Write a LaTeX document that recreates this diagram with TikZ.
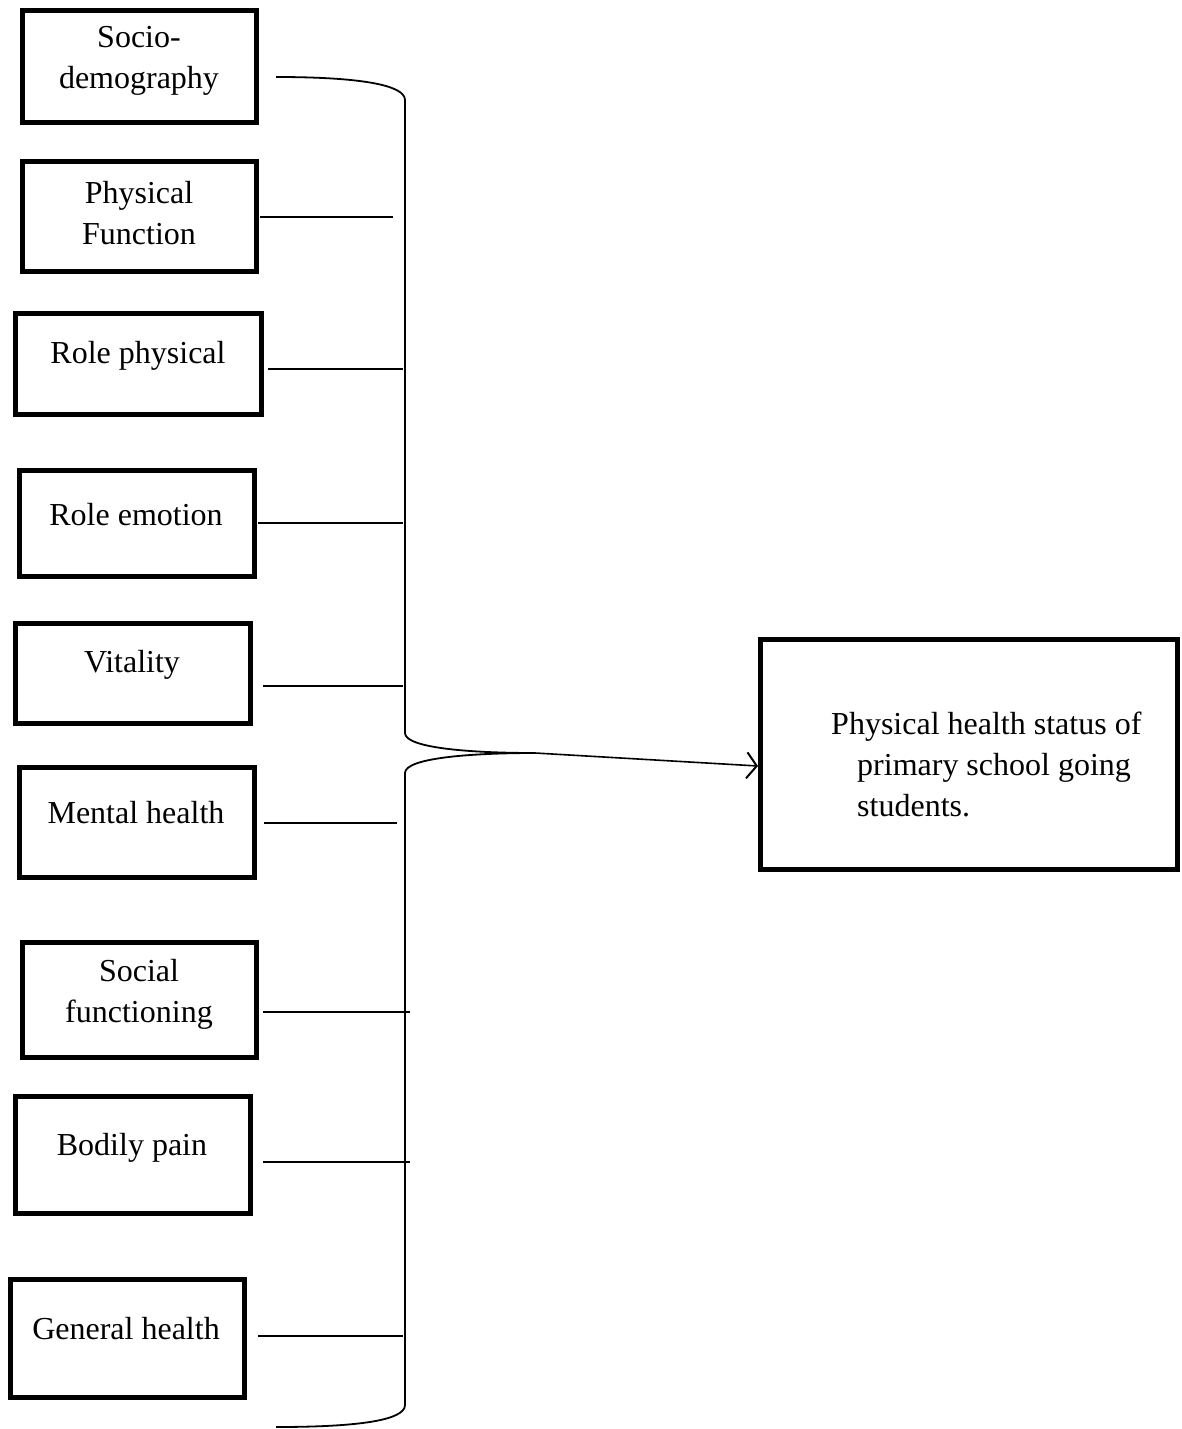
\documentclass[tikz,border=0pt]{standalone}
\usepackage{fontspec}
\setmainfont{Liberation Serif}
\usetikzlibrary{arrows.meta}
\begin{document}
\begin{tikzpicture}[x=1pt,y=1pt,
  box/.style={draw, line width=5pt, inner sep=0pt},
  lbl/.style={font=\fontsize{32}{41}\selectfont, align=center, inner sep=0pt},
  conn/.style={line width=1.6pt},
  brace/.style={line width=1.8pt}]
\useasboundingbox (0,0) rectangle (1181,-1429);
% boxes
\node[box, minimum width=234, minimum height=112] (b1) at (139.5,-66.5) {};
\node[box, minimum width=234, minimum height=110] (b2) at (139.5,-216.5) {};
\node[box, minimum width=246, minimum height=101] (b3) at (138.5,-364) {};
\node[box, minimum width=235, minimum height=106] (b4) at (137,-523.5) {};
\node[box, minimum width=235, minimum height=100] (b5) at (133,-673.5) {};
\node[box, minimum width=235, minimum height=110] (b6) at (137,-822.5) {};
\node[box, minimum width=234, minimum height=115] (b7) at (139.5,-1000) {};
\node[box, minimum width=235, minimum height=117] (b8) at (133,-1155) {};
\node[box, minimum width=234, minimum height=118] (b9) at (127.5,-1338.5) {};
\node[box, minimum width=417, minimum height=230] (out) at (969,-754.5) {};
% labels
\node[lbl] (t1) at (139,-61) {Socio-\\demography};
\node[lbl] (t2) at (139,-213) {Physical\\Function};
\node[lbl] (t3) at (138,-356) {Role physical};
\node[lbl] (t4) at (136,-515) {Role emotion};
\node[lbl] (t5) at (132,-665) {Vitality};
\node[lbl] (t6) at (136,-813) {Mental health};
\node[lbl] (t7) at (139,-994) {Social\\functioning};
\node[lbl] (t8) at (132,-1148) {Bodily pain};
\node[lbl] (t9) at (126,-1329) {General health};
\node[font=\fontsize{32}{41}\selectfont, align=left, inner sep=0pt, anchor=west] (to) at (831,-764)
  {Physical health status of\\\hspace*{26pt}primary school going\\\hspace*{26pt}students.};
% brace coordinates
\coordinate (s1) at (276,-77);
\coordinate (tip) at (535,-753);
\coordinate (s10) at (276,-1427);
\draw[brace] (s1) .. controls (360,-77) and (405,-85) .. (405,-100)
  -- (405,-733) .. controls (405,-748) and (470,-753) .. (tip);
\draw[brace] (tip) .. controls (470,-753) and (405,-758) .. (405,-773)
  -- (405,-1405) .. controls (405,-1420) and (360,-1427) .. (s10);
% connectors
\coordinate (l2) at (260,-217); \coordinate (r2) at (393,-217);
\coordinate (l3) at (268,-369); \coordinate (r3) at (403,-369);
\coordinate (l4) at (258,-523); \coordinate (r4) at (403,-523);
\coordinate (l5) at (263,-686); \coordinate (r5) at (403,-686);
\coordinate (l6) at (264,-823); \coordinate (r6) at (397,-823);
\coordinate (l7) at (263,-1012); \coordinate (r7) at (410,-1012);
\coordinate (l8) at (263,-1162); \coordinate (r8) at (410,-1162);
\coordinate (l9) at (258,-1336); \coordinate (r9) at (403,-1336);
\foreach \i in {2,...,9} {\draw[conn] (l\i) -- (r\i);}
\draw[conn, -{Straight Barb[length=10pt,width=26pt,line width=2pt]}] (tip) -- (out.west |- 0,-766);
\end{tikzpicture}
\end{document}
